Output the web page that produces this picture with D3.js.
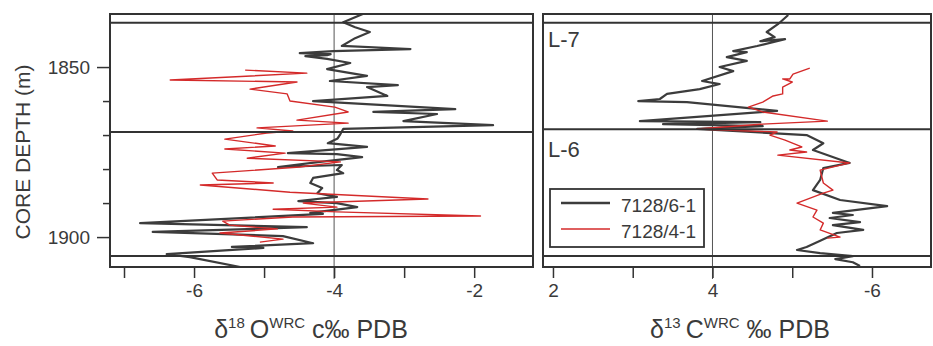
<!DOCTYPE html>
<html><head><meta charset="utf-8">
<script src="https://cdn.jsdelivr.net/npm/d3@7"></script>
<style>body{margin:0;background:#fff}svg{display:block}text{font-family:"Liberation Sans",Arial,sans-serif;fill:#3a3a3a}</style>
</head><body>
<svg id="c" width="933" height="346"></svg>
<script>
// ---- data: [depth (m), value] ----
const o18Well61 = [[1834.4,-3.59],[1836.8,-3.87],[1838.3,-3.7],[1839.7,-3.49],[1841.5,-3.7],[1843.8,-3.89],[1844.7,-2.91],[1845.3,-4.01],[1845.9,-4.49],[1846.2,-4.05],[1846.5,-4.10],[1846.8,-4.41],[1847.6,-4.10],[1848.8,-3.77],[1850.6,-4.10],[1852.6,-3.53],[1854.1,-4.06],[1855.3,-3.09],[1855.9,-3.53],[1858.5,-3.24],[1860.0,-4.30],[1862.4,-2.27],[1863.2,-3.44],[1863.8,-2.53],[1865.9,-3.01],[1867.1,-1.73],[1868.2,-3.87],[1869.7,-3.91],[1871.0,-3.95],[1872.4,-4.09],[1873.5,-3.53],[1875.3,-4.66],[1875.6,-3.96],[1876.5,-3.60],[1877.9,-4.20],[1879.4,-4.80],[1878.8,-3.89],[1880.3,-3.96],[1881.2,-3.87],[1882.6,-4.30],[1884.1,-4.34],[1885.6,-4.17],[1887.1,-4.24],[1888.2,-3.96],[1889.4,-4.51],[1890.0,-3.96],[1891.2,-3.67],[1892.9,-4.34],[1893.2,-4.16],[1895.9,-6.77],[1897.1,-4.39],[1898.5,-6.59],[1899.7,-4.73],[1901.8,-4.30],[1902.9,-5.46],[1903.2,-5.01],[1905.0,-6.39],[1905.9,-6.06],[1908.8,-5.34]];
const o18Well41 = [[1850.9,-5.27],[1851.8,-4.39],[1853.8,-6.34],[1854.4,-4.53],[1856.5,-5.20],[1857.9,-4.67],[1860.0,-4.63],[1861.8,-3.99],[1863.2,-3.80],[1865.6,-4.53],[1866.5,-3.80],[1867.9,-5.10],[1868.8,-4.59],[1869.4,-4.96],[1871.2,-5.56],[1873.2,-4.84],[1874.1,-5.56],[1875.3,-4.70],[1876.8,-5.24],[1877.9,-3.91],[1879.4,-4.49],[1881.2,-5.74],[1883.2,-5.67],[1884.1,-4.87],[1884.7,-5.91],[1886.8,-4.63],[1888.8,-2.66],[1890.0,-4.44],[1891.2,-3.96],[1891.8,-4.87],[1892.6,-3.96],[1893.8,-1.91],[1894.1,-4.59],[1895.3,-5.59],[1896.5,-5.49],[1897.6,-4.81],[1898.8,-5.63],[1900.6,-4.73],[1901.5,-5.06]];
const c13Well61 = [[1834.7,4.95],[1837.4,4.82],[1839.7,4.68],[1841.2,4.78],[1842.4,4.60],[1841.8,4.91],[1843.8,4.56],[1845.3,4.26],[1845.6,4.43],[1847.1,4.18],[1848.2,4.43],[1850.0,4.09],[1851.2,4.26],[1854.1,3.87],[1855.0,4.09],[1856.5,3.84],[1857.9,3.43],[1859.4,3.34],[1860.0,3.07],[1860.3,3.68],[1862.9,4.81],[1865.9,3.09],[1866.2,4.60],[1866.8,3.38],[1867.4,4.63],[1868.2,3.81],[1870.0,5.18],[1872.4,5.39],[1874.4,5.26],[1878.2,5.72],[1879.7,5.39],[1883.2,5.35],[1886.2,5.26],[1889.1,5.60],[1890.9,6.19],[1892.9,5.51],[1893.5,5.76],[1894.4,5.47],[1895.6,5.85],[1896.5,5.51],[1897.9,5.89],[1898.8,5.56],[1901.5,5.31],[1902.9,5.18],[1903.8,5.06],[1904.7,5.35],[1905.6,5.76],[1906.5,5.54],[1907.4,5.76],[1908.5,5.85]];
const c13Well41 = [[1850.3,5.22],[1852.1,5.01],[1853.5,4.97],[1853.5,4.88],[1854.4,5.00],[1855.9,4.88],[1857.9,4.88],[1858.5,4.76],[1860.3,4.63],[1861.8,4.45],[1863.2,4.63],[1865.9,5.44],[1866.8,4.60],[1868.2,3.81],[1869.1,4.81],[1870.0,4.72],[1871.5,4.91],[1873.5,5.12],[1874.4,4.97],[1875.0,5.18],[1875.9,4.82],[1878.2,5.72],[1880.3,5.35],[1884.1,5.39],[1886.2,5.51],[1887.1,5.39],[1890.0,5.06],[1892.1,5.31],[1894.1,5.26],[1895.9,5.39],[1897.9,5.35],[1900.0,5.60],[1900.3,5.44]];
const seriesNames = ["7128/6-1","7128/4-1"];
const depthTicks = [1850,1860,1870,1880,1890,1900];
const depthLabels = ["1850","","","","","1900"];
const o18Ticks = [-7,-6,-5,-4,-3,-2];
const o18Labels = ["","-6","","-4","","-2"];
const c13Ticks = [2,3,4,5,6];
const c13Labels = ["2","","4","","-6"];
const leftBounds = [1837,1869.1,1905.6];
const rightBounds = [1837,1868.3,1905.6];
const unitLabels = ["L-7","L-6"];

// ---- layout ----
const svg = d3.select("#c");
const topY = 14, bottomY = 267;
const y = d3.scaleLinear().domain([1834.4,1908.8]).range([topY,bottomY]);
const xL = d3.scaleLinear().domain([-7.2,-1.16]).range([110,533]);
const xR = d3.scaleLinear().domain([1.875,6.74]).range([543,931]);
const dark = "#333", colBlack = "#3c3c3c", colRed = "#d42a2a";

function panel(id, x, refVal, bounds, s1, s2, ticks, labels){
  const [x0,x1] = x.range();
  svg.append("clipPath").attr("id",id).append("rect").attr("x",x0).attr("y",topY).attr("width",x1-x0).attr("height",bottomY-topY);
  svg.append("line").attr("x1",x(refVal)).attr("x2",x(refVal)).attr("y1",topY).attr("y2",bottomY+12)
    .attr("stroke","#555").attr("stroke-width",1);
  const g = svg.append("g").attr("clip-path",`url(#${id})`);
  const line = d3.line().x(d=>x(d[1])).y(d=>y(d[0]));
  g.append("path").datum(s1).attr("d",line).attr("fill","none").attr("stroke",colBlack).attr("stroke-width",2.2).attr("stroke-linejoin","round");
  g.append("path").datum(s2).attr("d",line).attr("fill","none").attr("stroke",colRed).attr("stroke-width",1.4).attr("stroke-linejoin","round");
  bounds.forEach(b=>svg.append("line").attr("x1",x0).attr("x2",x1).attr("y1",y(b)).attr("y2",y(b)).attr("stroke",dark).attr("stroke-width",2));
  svg.append("rect").attr("x",x0).attr("y",topY).attr("width",x1-x0).attr("height",bottomY-topY)
    .attr("fill","none").attr("stroke",dark).attr("stroke-width",2);
  const ax = svg.append("g").attr("transform",`translate(0,${bottomY})`)
    .call(d3.axisBottom(x).tickValues(ticks).tickSize(11).tickPadding(6).tickFormat((d,i)=>labels[i]));
  ax.select(".domain").remove();
  ax.selectAll(".tick line").attr("stroke",dark).attr("stroke-width",1.5);
  ax.selectAll(".tick text").attr("font-size",19).attr("fill","#3a3a3a").attr("font-family","Liberation Sans, Arial, sans-serif");
}
panel("clipL", xL, -4, leftBounds, o18Well61, o18Well41, o18Ticks, o18Labels);
panel("clipR", xR, 4, rightBounds, c13Well61, c13Well41, c13Ticks, c13Labels);

// depth axis
const ay = svg.append("g").attr("transform","translate(110,0)")
  .call(d3.axisLeft(y).tickValues(depthTicks).tickSize(0).tickPadding(20).tickFormat((d,i)=>depthLabels[i]));
ay.select(".domain").remove();
ay.selectAll(".tick line").remove();
ay.selectAll(".tick").append("line").attr("x1",(d,i)=>depthLabels[i]?-13:-7).attr("x2",0).attr("stroke",dark).attr("stroke-width",1.5);
ay.selectAll(".tick text").attr("font-size",19).attr("fill","#3a3a3a").attr("font-family","Liberation Sans, Arial, sans-serif");

svg.append("text").attr("transform","translate(30,152) rotate(-90)").attr("text-anchor","middle")
  .attr("font-size",21).text("CORE DEPTH (m)");

svg.append("text").attr("x",548).attr("y",47).attr("font-size",22).text(unitLabels[0]);
svg.append("text").attr("x",548).attr("y",157).attr("font-size",22).text(unitLabels[1]);

function title(cx, sup1, main, sup2, rest){
  const t = svg.append("text").attr("x",cx).attr("y",338).attr("text-anchor","middle").attr("font-size",25);
  t.append("tspan").text("δ");
  t.append("tspan").attr("font-size",15).attr("dy",-10).text(sup1);
  t.append("tspan").attr("dy",10).text("\u2009"+main);
  t.append("tspan").attr("font-size",15).attr("dy",-10).text(sup2);
  t.append("tspan").attr("dy",10).text(rest);
}
title(311, "18", "O", "WRC", " c‰ PDB");
title(740, "13", "C", "WRC", " ‰ PDB");

const lg = svg.append("g");
lg.append("rect").attr("x",550).attr("y",189).attr("width",154).attr("height",58).attr("fill","#fff").attr("stroke",dark).attr("stroke-width",1.8);
[colBlack,colRed].forEach((c,i)=>{
  const yy = 203 + i*26;
  lg.append("line").attr("x1",561).attr("x2",610).attr("y1",yy).attr("y2",yy).attr("stroke",c).attr("stroke-width",i?1.5:2.4);
  lg.append("text").attr("x",621).attr("y",yy+9).attr("font-size",19).text(seriesNames[i]);
});
</script>
</body></html>
